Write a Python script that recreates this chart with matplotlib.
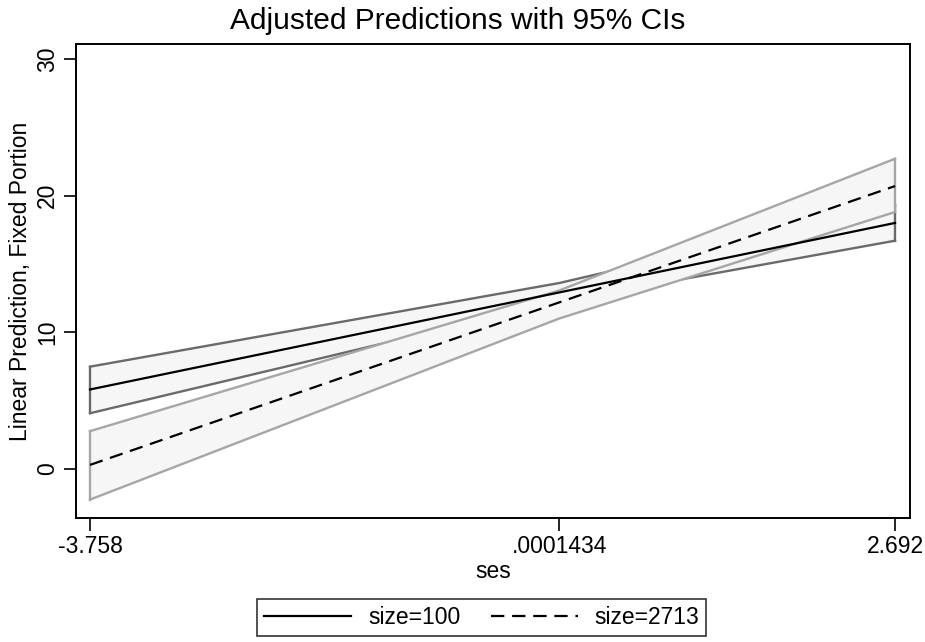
import matplotlib
matplotlib.use("Agg")
from matplotlib import pyplot as plt

plt.rcParams['font.family'] = ['Liberation Sans', 'DejaVu Sans']

# at() values of ses
ses = [-3.758, 0.0001434, 2.692]
ses_labels = ["-3.758", ".0001434", "2.692"]

# size=100
pred_100 = [5.81, 12.91, 18.0]
lo_100 = [4.07, 12.25, 16.7]
hi_100 = [7.48, 13.6, 19.3]

# size=2713
pred_2713 = [0.29, 12.18, 20.7]
lo_2713 = [-2.25, 11.0, 18.8]
hi_2713 = [2.76, 13.05, 22.7]

fig = plt.figure(figsize=(9.25, 6.42), dpi=100)
ax = fig.add_axes([0.0818, 0.1931, 0.902, 0.7384])

# CI bands drawn in order, later band covers the earlier one (Stata style)
z = 1
for lo, hi, col in [(lo_100, hi_100, '#6a6a6a'), (lo_2713, hi_2713, '#a6a6a6')]:
    ax.fill_between(ses, lo, hi, facecolor='#f6f6f6', edgecolor='none', zorder=z)
    for ys in (lo, hi):
        ax.plot(ses, ys, color=col, linewidth=1.7, zorder=z + 0.5)
    ax.plot([ses[0], ses[0]], [lo[0], hi[0]], color=col, linewidth=1.7, zorder=z + 0.5)
    ax.plot([ses[-1], ses[-1]], [lo[-1], hi[-1]], color=col, linewidth=1.7, zorder=z + 0.5)
    z += 1

# prediction lines
ax.plot(ses, pred_100, color='black', linewidth=1.6, label='size=100', zorder=5)
ax.plot(ses, pred_2713, color='black', linewidth=1.6, linestyle=(0, (6, 3.5)), label='size=2713', zorder=5)

ax.set_xlim(-3.873, 2.812)
ax.set_ylim(-3.6, 31.1)
ax.set_xticks(ses)
ax.set_xticklabels(ses_labels)
ax.set_yticks([0, 10, 20, 30])
ax.tick_params(axis='both', direction='out', length=9, width=1.2, labelsize=16.5, pad=3)
ax.tick_params(axis='y', labelrotation=90)
for lab in ax.get_yticklabels():
    lab.set_va('center')
for sp in ax.spines.values():
    sp.set_linewidth(1.4)

fig.text(0.495, 1 - 21 / 642, "Adjusted Predictions with 95% CIs", fontsize=21.5, ha='center', va='center')
ax.set_xlabel("ses", fontsize=16.5, labelpad=2)
ax.set_ylabel("Linear Prediction, Fixed Portion", fontsize=16.5)
ax.yaxis.label.set_va('center')
ax.yaxis.set_label_coords(-0.066, 0.5)

leg = fig.legend(loc='lower center', bbox_to_anchor=(0.521, -0.008), ncol=2, fontsize=16.5,
                 handlelength=3.8, columnspacing=1.3, frameon=True, fancybox=False,
                 borderpad=0.3, handletextpad=0.75)
leg.get_frame().set_edgecolor('black')
leg.get_frame().set_linewidth(1.2)

fig.savefig("out.png", dpi=100)
